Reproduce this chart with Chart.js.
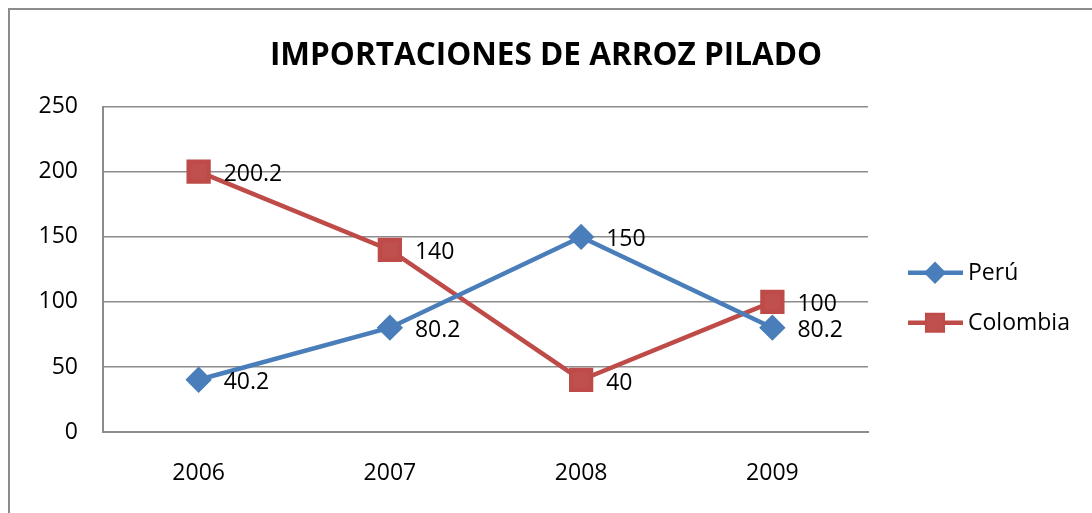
<!DOCTYPE html>
<html>
<head>
<meta charset="utf-8">
<script src="https://cdn.jsdelivr.net/npm/chart.js@4"></script>
<style>
  html, body { margin: 0; padding: 0; background: #fff; overflow: hidden; }
  #wrap { position: relative; width: 1092px; height: 513px; }
  #frame {
    position: absolute; left: 8px; top: 8px; width: 1200px; height: 600px;
    border-left: 2px solid #8c8c8c; border-top: 2px solid #8c8c8c;
  }
  canvas { position: absolute; left: 0; top: 0; }
</style>
</head>
<body>
<div id="wrap">
  <div id="frame"></div>
  <canvas id="chart" width="1092" height="513"></canvas>
</div>
<script>
// chart data
const years = ['2006', '2007', '2008', '2009'];
const peru = [40.2, 80.2, 150, 80.2];
const colombia = [200.2, 140, 40, 100];
const chartTitle = 'IMPORTACIONES DE ARROZ PILADO';
const FONT = "'Open Sans', 'Liberation Sans', sans-serif";

// draws value labels to the right of every point
const pointLabels = {
  id: 'pointLabels',
  afterDatasetsDraw(chart) {
    const ctx = chart.ctx;
    ctx.save();
    ctx.font = `23px ${FONT}`;
    ctx.fillStyle = '#000';
    ctx.textAlign = 'left';
    ctx.textBaseline = 'middle';
    chart.data.datasets.forEach((ds, i) => {
      chart.getDatasetMeta(i).data.forEach((pt, j) => {
        ctx.fillText(String(ds.data[j]), pt.x + 25, pt.y + 3);
      });
    });
    ctx.restore();
  }
};

// legend with line + marker samples, like the spreadsheet one
const lineLegend = {
  id: 'lineLegend',
  afterDraw(chart) {
    const ctx = chart.ctx;
    const area = chart.chartArea;
    const x0 = area.right + 40;
    ctx.save();
    chart.data.datasets.forEach((ds, i) => {
      const y = area.top + 166 + i * 50;
      ctx.strokeStyle = ds.borderColor;
      ctx.lineWidth = 4.5;
      ctx.beginPath();
      ctx.moveTo(x0, y);
      ctx.lineTo(x0 + 55, y);
      ctx.stroke();
      Chart.helpers.drawPoint(ctx, {
        pointStyle: ds.pointStyle,
        radius: i === 0 ? 8 : 11,
        borderWidth: 1
      }, x0 + 27, y);
      ctx.fillStyle = ds.backgroundColor;
      ctx.fill();
      ctx.fillStyle = '#000';
      ctx.font = `23px ${FONT}`;
      ctx.textBaseline = 'middle';
      ctx.textAlign = 'left';
      ctx.fillText(ds.label, x0 + 60, y + 1);
    });
    ctx.restore();
  }
};

new Chart(document.getElementById('chart'), {
  type: 'line',
  data: {
    labels: years,
    datasets: [
      {
        label: 'Perú',
        data: peru,
        borderColor: '#4A7EBB',
        backgroundColor: '#4A7EBB',
        borderWidth: 4.5,
        pointStyle: 'rectRot',
        pointRadius: 10,
        pointHoverRadius: 10,
        tension: 0
      },
      {
        label: 'Colombia',
        data: colombia,
        borderColor: '#BE4B48',
        backgroundColor: '#C0504D',
        borderWidth: 4.5,
        pointStyle: 'rect',
        pointRadius: 14,
        pointHoverRadius: 14,
        tension: 0
      }
    ]
  },
  options: {
    responsive: false,
    animation: false,
    events: [],
    layout: { padding: 0 },
    plugins: {
      legend: { display: false },
      tooltip: { enabled: false },
      title: {
        display: true,
        text: chartTitle,
        color: '#000',
        font: { family: FONT, size: 31.5, weight: 'bold', lineHeight: 1.2 },
        padding: { top: 37, bottom: 32 }
      }
    },
    scales: {
      x: {
        offset: true,
        grid: { display: false, drawTicks: false },
        border: { display: true, color: '#8c8c8c', width: 2 },
        ticks: { color: '#000', font: { family: FONT, size: 23 }, padding: 28 },
        afterFit: (s) => { s.height = 81; }
      },
      y: {
        min: 0,
        max: 250,
        ticks: { stepSize: 50, color: '#000', font: { family: FONT, size: 23 }, padding: 25, crossAlign: 'near' },
        grid: { color: '#8c8c8c', lineWidth: 1.5, drawTicks: false },
        border: { display: true, color: '#8c8c8c', width: 2 },
        afterFit: (s) => { s.width = 103; }
      },
      // empty right axis only to keep room for the legend
      spacer: {
        position: 'right',
        display: true,
        grid: { display: false, drawTicks: false },
        border: { display: false },
        ticks: { display: false },
        afterFit: (s) => { s.width = 224; }
      }
    }
  },
  plugins: [pointLabels, lineLegend]
});
</script>
</body>
</html>
